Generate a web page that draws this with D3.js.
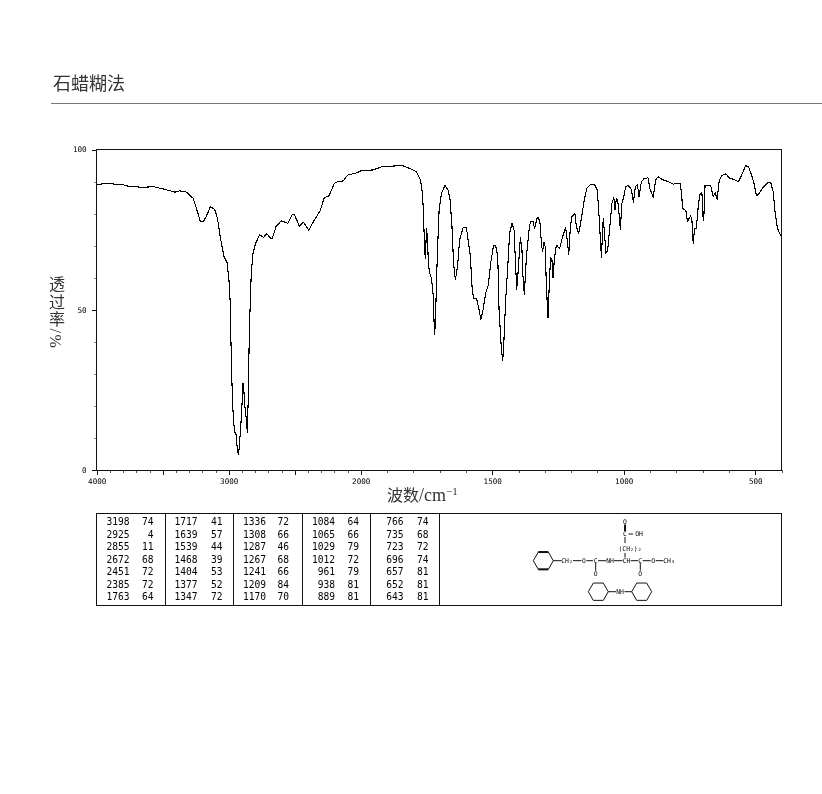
<!DOCTYPE html>
<html><head><meta charset="utf-8">
<script src="https://cdnjs.cloudflare.com/ajax/libs/d3/7.8.5/d3.min.js"></script>
<style>html,body{margin:0;padding:0;background:#fff}svg{display:block;filter:grayscale(1)}</style>
</head><body><div id="c"></div>
<script>
const titleText = "石蜡糊法";
const yTitle = "透过率/%";
const wavenumbers = [4000,3923,3798,3760,3647,3571,3496,3408,3370,3319,3270,3244,3214,3194,3168,3138,3106,3085,3068,3051,3035,3013,2998,2987,2987,2980,2972,2962,2952,2942,2934,2925,2917,2909,2902,2892,2889,2877,2866,2859,2851,2844,2836,2829,2816,2796,2766,2736,2711,2678,2670,2640,2602,2552,2519,2502,2464,2434,2394,2351,2308,2275,2243,2200,2175,2132,2100,2024,1995,1953,1921,1864,1845,1814,1788,1773,1765,1761,1757,1754,1750,1746,1743,1738,1731,1725,1721,1719,1716,1712,1708,1702,1693,1680,1668,1660,1653,1647,1640,1632,1624,1611,1598,1590,1583,1576,1570,1559,1550,1543,1535,1525,1515,1506,1495,1487,1479,1474,1465,1460,1456,1449,1441,1434,1425,1417,1412,1407,1402,1393,1387,1383,1378,1370,1360,1355,1345,1339,1329,1324,1318,1313,1309,1303,1299,1294,1288,1283,1278,1273,1269,1265,1259,1254,1244,1234,1221,1215,1209,1203,1197,1186,1180,1171,1161,1149,1140,1127,1111,1101,1096,1091,1085,1078,1073,1068,1061,1054,1045,1038,1033,1028,1023,1018,1013,1007,1000,993,984,971,963,956,948,942,933,924,908,901,888,879,869,854,831,812,786,781,776,764,758,746,741,736,731,724,717,711,703,698,696,691,669,660,652,645,637,625,612,597,581,564,552,537,527,516,505,496,489,473,454,441,432,425,416,400];
const transmittance = [89.1,89.4,89.0,88.5,88.2,88.4,87.7,86.7,87.1,86.7,84.8,81.6,77.4,77.4,79.3,82.2,81.3,78.5,73.8,69.7,66.6,64.7,59.3,51,46.8,35.4,21.8,14.6,11.6,10.9,5.7,4.9,8.8,13.5,17.8,27,27,19.8,15.6,11.6,24,42.7,53,61.4,67.6,70.7,73.4,72.6,73.7,72.1,72.3,76.1,77.7,77,79.7,79.7,76,77.3,74.8,78,80.8,85.1,85.3,89.4,90,90.2,92,92.8,93.5,93.6,94.6,94.9,95.1,94.1,93.1,90.5,86.3,79,68.6,66,75.4,72.3,64.5,61.6,59.8,55.1,45.8,42.4,45.8,58.3,68.6,81,86.3,88.8,87.4,84.2,75.9,64.5,59.3,63.4,71.8,75.6,75.6,70.7,66.6,56.2,53.4,53.4,49.9,47,49.9,55.1,57.7,64.5,70,70,66.6,49.9,37.4,34.1,39.5,53,63.4,73.8,77,74.9,65.5,56.2,61.4,72.6,68.6,60.3,54.6,66.6,74.9,77.5,77.5,75.4,78.7,78.7,76.8,70.7,68.1,71.2,69.7,57.2,47.5,58.3,66.4,65.5,60.1,64.5,69.2,70,69,72.3,75.7,71.8,67.3,75.9,79,80.1,75.9,73.8,78.5,84.8,87.9,89.1,89.1,87.4,82.2,74.9,66.4,78.5,73.8,67.6,68.6,74.9,83.2,85,81.1,84.8,84.2,80.1,75.1,83.2,85.3,88.4,88.8,87.6,83.5,88.4,89,85.3,90,90.8,91.2,87.9,85.1,90.5,91.5,90.6,90,89.2,89.5,86.8,81.6,80.9,77.5,79.3,78,70.7,75.4,75.4,82.2,85.8,86.5,78,78,88.9,88.6,85.3,86.5,84.4,90.5,92,92.4,91,90.7,89.9,92,94.9,94.8,92.5,89.4,85.8,85.8,87.9,89.6,89.6,86.8,80.6,75.4,72.6];
const xDomain = [4000,2000,400];
const xLabelled = [4000,3000,2000,1500,1000,500];
const xLongTicks = [3500,2500];
const xMinorTicks = [3900,3800,3700,3600,3400,3300,3200,3100,2900,2800,2700,2600,2400,2300,2200,2100,1900,1800,1700,1600,1400,1300,1200,1100,900,800,700,600,400];
const yLabelled = [0,50,100];
const yMinorTicks = [10,20,30,40,60,70,80,90];
const peakWave = [[3198,2925,2855,2672,2451,2385,1763],[1717,1639,1539,1468,1404,1377,1347],[1336,1308,1287,1267,1241,1209,1170],[1084,1065,1029,1012,961,938,889],[766,735,723,696,657,652,643]];
const peakT = [[74,4,11,68,72,72,64],[41,57,44,39,53,52,72],[72,66,46,68,66,84,70],[64,66,79,72,79,81,81],[74,68,72,74,81,81,81]];

const W=822,H=794, MONO='"DejaVu Sans Mono",monospace', CJK='"Noto Sans CJK SC",sans-serif', SERIF='"Liberation Serif",serif', INK='#111';
const svg=d3.select('#c').append('svg').attr('width',W).attr('height',H).attr('viewBox',[0,0,W,H]);
const x=d3.scaleLinear().domain(xDomain).range([96.7,360.7,781.6]);
const y=d3.scaleLinear().domain([0,100]).range([470,149.5]);

svg.append('text').attr('x',53).attr('y',89.5).attr('font-family',CJK).attr('font-size',18).attr('fill','#333').text(titleText);
svg.append('line').attr('x1',51).attr('x2',822).attr('y1',103.5).attr('y2',103.5).attr('stroke','#777');

function styleAxis(g,col){g.select('.domain').remove();g.selectAll('line').attr('stroke',col).attr('shape-rendering','crispEdges');
  g.selectAll('text').attr('font-family',MONO).attr('font-size',7.6).attr('fill','#000');}
const bottom=()=>`translate(0,470)`;
svg.append('g').attr('transform',bottom()).call(d3.axisBottom(x).tickValues(xMinorTicks).tickSize(3).tickFormat('')).call(styleAxis,'#555');
svg.append('g').attr('transform',bottom()).call(d3.axisBottom(x).tickValues(xLongTicks).tickSize(5).tickFormat('')).call(styleAxis,INK);
svg.append('g').attr('transform',bottom()).call(d3.axisBottom(x).tickValues(xLabelled).tickSize(5).tickPadding(4).tickFormat(d3.format('d'))).call(styleAxis,INK);
svg.append('g').attr('transform','translate(96.7,0)').call(d3.axisLeft(y).tickValues(yMinorTicks).tickSize(3).tickFormat('')).call(styleAxis,'#888');
svg.append('g').attr('transform','translate(96.7,0)').call(d3.axisLeft(y).tickValues(yLabelled).tickSize(5).tickPadding(5).tickFormat(d3.format('d'))).call(styleAxis,INK);
svg.append('rect').attr('x',96.5).attr('y',149.5).attr('width',685).attr('height',320.5).attr('fill','none').attr('stroke',INK).attr('shape-rendering','crispEdges');

const line=d3.line().x((d,i)=>x(wavenumbers[i])).y(d=>y(d));
svg.append('path').datum(transmittance).attr('d',line).attr('fill','none').attr('stroke','#000').attr('stroke-width',1.1).attr('stroke-linejoin','round').attr('shape-rendering','crispEdges');

// y title: one vertically set text
svg.append('text').attr('x',55.5).attr('y',276).attr('font-family',`"Liberation Serif","Noto Sans CJK SC",sans-serif`).attr('font-size',16).attr('fill','#333')
  .style('writing-mode','vertical-rl').style('text-orientation','mixed').style('letter-spacing','1.5px').text(yTitle);

// x title
const xt=svg.append('text').attr('x',387).attr('y',501).attr('font-family',CJK).attr('font-size',16).attr('fill','#333');
xt.append('tspan').text('波数');
xt.append('tspan').attr('font-family',SERIF).attr('font-size',18).text('/cm');
xt.append('tspan').attr('font-family',SERIF).attr('font-size',11).attr('dy',-6).text('−1');

// peak table
const tb=svg.append('g');
tb.append('rect').attr('x',96.5).attr('y',513.5).attr('width',685).attr('height',91.5).attr('fill','none').attr('stroke',INK).attr('shape-rendering','crispEdges');
[165,233.5,302.5,370.5,439.5].forEach(v=>tb.append('line').attr('x1',v).attr('x2',v).attr('y1',513.5).attr('y2',605).attr('stroke',INK).attr('shape-rendering','crispEdges'));
const waveRight=[129.5,197.5,266,335,403.5], tRight=[153.5,222.5,289,359,428.5];
const rowY=d3.scaleLinear().domain([0,6]).range([525,600]);
peakWave.forEach((col,c)=>col.forEach((v,r)=>{
  [[v,waveRight[c]],[peakT[c][r],tRight[c]]].forEach(([t,px])=>tb.append('text').attr('x',px).attr('y',rowY(r)).attr('text-anchor','end').attr('font-family',MONO).attr('font-size',9.6).attr('fill','#000').text(t));
}));

// structure sketch
const mol=svg.append('g').attr('stroke',INK).attr('stroke-width',1).attr('fill','none');
function hex(cx,cy,r,bold){const pts=d3.range(6).map(i=>[cx+r*Math.cos(i*Math.PI/3),cy+r*Math.sin(i*Math.PI/3)]);
  mol.append('path').attr('d',d3.line()(pts)+'Z');
  if(bold){[[1,2],[4,5]].forEach(([a,b])=>mol.append('line').attr('x1',pts[a][0]).attr('y1',pts[a][1]).attr('x2',pts[b][0]).attr('y2',pts[b][1]).attr('stroke-width',2));}}
hex(543.3,560.7,10,true); hex(598.3,591.7,10,false); hex(641.7,591.7,10,false);
[[553,560.7,561.5,560.7],[573,560.7,581.5,560.7],[586.5,560.7,593,560.7],[598,560.7,606,560.7],[614,560.7,622.5,560.7],[630.7,560.7,638,560.7],[642.7,560.7,650.7,560.7],[655.7,560.7,663.3,560.7],
 [608.3,591.7,616,591.7],[624.5,591.7,631.7,591.7],[595.7,563,595.7,570.7],[640.3,563,640.3,570.7],[628.5,534,633,534],[625,537,625,543],[625,553,625,557.5]]
 .forEach(s=>mol.append('line').attr('x1',s[0]).attr('y1',s[1]).attr('x2',s[2]).attr('y2',s[3]));
mol.append('line').attr('x1',625).attr('x2',625).attr('y1',524.5).attr('y2',531).attr('stroke-width',2);
const mt=svg.append('g').attr('font-family',MONO).attr('font-size',6.4).attr('fill','#000').attr('text-anchor','middle');
[['CH₂',567,563],['O',584,563],['C',595.7,563],['NH',610,563],['CH',626.5,563],['C',640.3,563],['O',653.3,563],['CH₃',669,563],
 ['O',595.7,576],['O',640.3,576],['C',625,536.3],['O',625,523.5],['OH',639,536.3],['(CH₂)₂',630,551],['NH',620,594]].forEach(([t,a,b])=>mt.append('text').attr('x',a).attr('y',b).text(t));
</script></body></html>
